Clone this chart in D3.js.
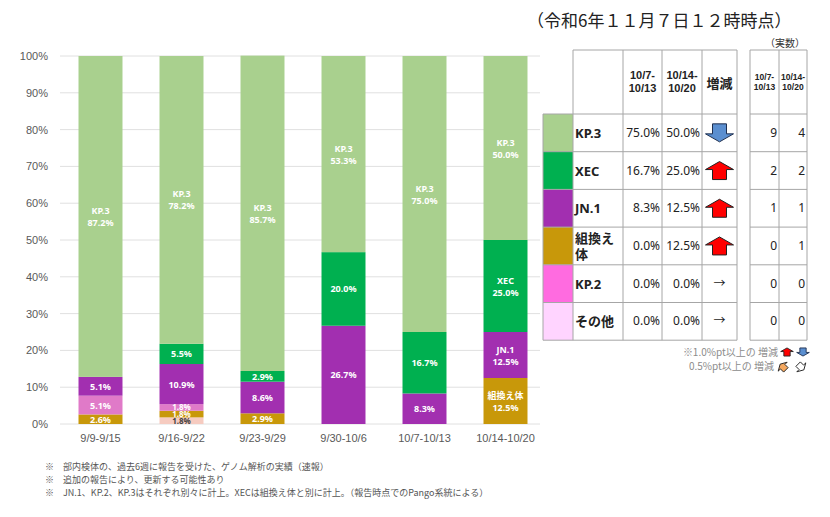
<!DOCTYPE html>
<html>
<head>
<meta charset="utf-8">
<script src="https://cdn.jsdelivr.net/npm/d3@7"></script>
<style>
  body { margin: 0; background: #fff; }
  svg { font-family: "Noto Sans", "Noto Sans CJK JP", sans-serif; }
</style>
</head>
<body>
<div id="chart"></div>
<script>
// weeks (x axis)
const weeks = ['9/9-9/15', '9/16-9/22', '9/23-9/29', '9/30-10/6', '10/7-10/13', '10/14-10/20'];
// stack order, bottom to top
const lineages = ['その他', '組換え体', 'KP.2', 'JN.1', 'XEC', 'KP.3'];
// percentage per week
const sonota  = [0, 1.8, 0, 0, 0, 0];
const kumikae = [2.6, 1.8, 2.9, 0, 0, 12.5];
const kp2     = [5.1, 1.8, 0, 0, 0, 0];
const jn1     = [5.1, 10.9, 8.6, 26.7, 8.3, 12.5];
const xec     = [0, 5.5, 2.9, 20.0, 16.7, 25.0];
const kp3     = [87.2, 78.2, 85.7, 53.3, 75.0, 50.0];
const yTicks  = [0, 10, 20, 30, 40, 50, 60, 70, 80, 90, 100];

// table on the right
const tableNames = ['KP.3', 'XEC', 'JN.1', '組換え体', 'KP.2', 'その他'];
const pctPrev = [75.0, 16.7, 8.3, 0.0, 0.0, 0.0];
const pctCurr = [50.0, 25.0, 12.5, 12.5, 0.0, 0.0];
const cntPrev = [9, 2, 1, 0, 0, 0];
const cntCurr = [4, 2, 1, 1, 0, 0];
const tableHead = ['10/7-|10/13', '10/14-|10/20'];

const notes = [
  '※　部内検体の、過去6週に報告を受けた、ゲノム解析の実績（速報）',
  '※　追加の報告により、更新する可能性あり',
  '※　JN.1、KP.2、KP.3はそれぞれ別々に計上。XECは組換え体と別に計上。（報告時点でのPango系統による）'
];

const barColor = {'KP.3': '#a9d08e', 'XEC': '#00b050', 'JN.1': '#a22fb0', '組換え体': '#c8980a', 'KP.2': '#e07ac8', 'その他': '#f6cbc0'};
const cellColor = {'KP.3': '#a9d08e', 'XEC': '#00b050', 'JN.1': '#a22fb0', '組換え体': '#c8980a', 'KP.2': '#ff6be0', 'その他': '#ffd4ff'};

const W = 830, H = 517;
const svg = d3.select('#chart').append('svg').attr('width', W).attr('height', H);

// ---- stacked bars ----
const series = {'その他': sonota, '組換え体': kumikae, 'KP.2': kp2, 'JN.1': jn1, 'XEC': xec, 'KP.3': kp3};
const rows = weeks.map((w, i) => {
  const r = {week: w};
  lineages.forEach(k => r[k] = series[k][i]);
  return r;
});
const stacked = d3.stack().keys(lineages)(rows);

const x = d3.scaleBand().domain(weeks).range([60, 546]).paddingInner(0.457).paddingOuter(0.2285);
const y = d3.scaleLinear().domain([0, 100]).range([424, 56]);

// grid
svg.append('g').selectAll('line').data(yTicks).join('line')
  .attr('x1', 60).attr('x2', 540)
  .attr('y1', d => y(d)).attr('y2', d => y(d))
  .attr('stroke', '#e0e0e0').attr('stroke-width', 1);

const yAxis = svg.append('g').attr('transform', 'translate(60,0)')
  .call(d3.axisLeft(y).tickValues(yTicks).tickFormat(d => d + '%').tickSize(0).tickPadding(12));
yAxis.select('.domain').remove();
yAxis.selectAll('text').attr('fill', '#595959').style('font-size', '11px');

const xAxis = svg.append('g').attr('transform', 'translate(0,424)')
  .call(d3.axisBottom(x).tickSize(0).tickPadding(10));
xAxis.select('.domain').remove();
xAxis.selectAll('text').attr('fill', '#595959').style('font-size', '11px');

const layer = svg.append('g').selectAll('g').data(stacked).join('g')
  .attr('fill', d => barColor[d.key]);
layer.selectAll('rect').data(d => d).join('rect')
  .attr('x', d => x(d.data.week))
  .attr('width', x.bandwidth())
  .attr('y', d => y(d[1]))
  .attr('height', d => y(d[0]) - y(d[1]));

// labels
const labels = [];
stacked.forEach(s => {
  s.forEach((d, i) => {
    const v = d[1] - d[0];
    if (v <= 0) return;
    const named = s.key === 'KP.3' || i === weeks.length - 1;
    labels.push({key: s.key, week: d.data.week, mid: (d[0] + d[1]) / 2, small: y(d[0]) - y(d[1]) < 8,
      lines: named ? [s.key, d3.format('.1f')(v) + '%'] : [d3.format('.1f')(v) + '%']});
  });
});
const lab = svg.append('g').selectAll('text').data(labels).join('text')
  .attr('x', d => x(d.week) + x.bandwidth() / 2)
  .attr('y', d => y(d.mid) - (d.lines.length - 1) * 6 + (d.small ? 3 : 3.5))
  .attr('text-anchor', 'middle')
  .attr('fill', d => d.key === 'その他' ? '#404040' : '#fff')
  .style('font-size', d => d.small ? '8px' : '9px').style('font-weight', 'bold');
lab.selectAll('tspan').data(d => d.lines).join('tspan')
  .attr('x', function() { return d3.select(this.parentNode).attr('x'); })
  .attr('dy', (d, i) => i ? 12 : 0)
  .text(d => d);

// ---- title ----
svg.append('text').attr('x', 527).attr('y', 27).attr('fill', '#222')
  .style('font-size', '17px').style('font-family', '"Noto Sans CJK JP"')
  .text('（令和6年１１月７日１２時時点）');

// ---- table ----
const colX = [543, 573, 623, 662, 702, 737];
const cntX = [750, 779, 807];
const headTop = 50, rowTop = 114, rowH = 37.7;
const tbl = svg.append('g');
const rowY = i => rowTop + i * rowH;
const tableBottom = rowY(tableNames.length);
const gridStroke = '#a6a6a6';

// colour cells
tbl.selectAll('rect.sw').data(tableNames).join('rect').attr('class', 'sw')
  .attr('x', colX[0]).attr('y', (d, i) => rowY(i))
  .attr('width', colX[1] - colX[0]).attr('height', rowH)
  .attr('fill', d => cellColor[d]);

// horizontal lines
const hLines = [headTop].concat(d3.range(tableNames.length + 1).map(rowY));
tbl.selectAll('line.h').data(hLines).join('line').attr('class', 'h')
  .attr('x1', (d, i) => i === 0 ? colX[1] : colX[0]).attr('x2', colX[5])
  .attr('y1', d => d).attr('y2', d => d).attr('stroke', gridStroke);
tbl.selectAll('line.hc').data(hLines).join('line').attr('class', 'hc')
  .attr('x1', cntX[0]).attr('x2', cntX[2])
  .attr('y1', d => d).attr('y2', d => d).attr('stroke', gridStroke);
// vertical lines
tbl.selectAll('line.v').data(colX).join('line').attr('class', 'v')
  .attr('x1', d => d).attr('x2', d => d)
  .attr('y1', (d, i) => i === 0 ? rowTop : headTop).attr('y2', tableBottom)
  .attr('stroke', gridStroke);
tbl.selectAll('line.vc').data(cntX).join('line').attr('class', 'vc')
  .attr('x1', d => d).attr('x2', d => d)
  .attr('y1', headTop).attr('y2', tableBottom).attr('stroke', gridStroke);

// header (one text per line)
const headCells = [[colX[2], colX[3]], [colX[3], colX[4]]];
tableHead.forEach((h, j) => {
  h.split('|').forEach((s, k) => {
    tbl.append('text').attr('text-anchor', 'middle').attr('fill', '#222')
      .style('font-size', '11px').style('font-weight', 'bold').style('font-family', '"Liberation Sans", Arial')
      .attr('x', (headCells[j][0] + headCells[j][1]) / 2).attr('y', 79 + k * 13).text(s);
    tbl.append('text').attr('text-anchor', 'middle').attr('fill', '#222')
      .style('font-size', '8.5px').style('font-weight', 'bold').style('font-family', '"Liberation Sans", Arial')
      .attr('x', (cntX[j] + cntX[j + 1]) / 2).attr('y', 80 + k * 10).text(s);
  });
});
tbl.append('text').attr('x', (colX[4] + colX[5]) / 2).attr('y', 88)
  .attr('text-anchor', 'middle').attr('fill', '#222')
  .style('font-size', '13px').style('font-weight', 'bold').style('font-family', '"Noto Sans CJK JP"')
  .text('増減');
tbl.append('text').attr('x', 805).attr('y', 47).attr('text-anchor', 'end').attr('fill', '#333')
  .style('font-size', '10px').style('font-family', '"Noto Sans CJK JP"').text('（実数）');

// names
tableNames.forEach((n, i) => {
  const t = tbl.append('text').attr('fill', '#222')
    .style('font-size', '13px').style('font-weight', 'bold').style('font-family', '"Noto Sans", "Noto Sans CJK JP"');
  const parts = n === '組換え体' ? ['組換え', '体'] : [n];
  parts.forEach((p, k) => t.append('tspan').attr('x', colX[1] + 2)
    .attr('y', rowY(i) + rowH / 2 + 5 - (parts.length - 1) * 8 + k * 16).text(p));
});

const pctFmt = d => d3.format('.1f')(d) + '%';
tbl.selectAll('text.p1').data(pctPrev).join('text').attr('class', 'p1')
  .attr('x', colX[3] - 2).attr('y', (d, i) => rowY(i) + rowH / 2 + 4)
  .attr('text-anchor', 'end').attr('fill', '#222').style('font-size', '12px').text(pctFmt);
tbl.selectAll('text.p2').data(pctCurr).join('text').attr('class', 'p2')
  .attr('x', colX[4] - 2).attr('y', (d, i) => rowY(i) + rowH / 2 + 4)
  .attr('text-anchor', 'end').attr('fill', '#222').style('font-size', '12px').text(pctFmt);
tbl.selectAll('text.c1').data(cntPrev).join('text').attr('class', 'c1')
  .attr('x', cntX[1] - 2).attr('y', (d, i) => rowY(i) + rowH / 2 + 4)
  .attr('text-anchor', 'end').attr('fill', '#222').style('font-size', '12px').text(d => d);
tbl.selectAll('text.c2').data(cntCurr).join('text').attr('class', 'c2')
  .attr('x', cntX[2] - 2).attr('y', (d, i) => rowY(i) + rowH / 2 + 4)
  .attr('text-anchor', 'end').attr('fill', '#222').style('font-size', '12px').text(d => d);

// arrows
const arrowPath = 'M0,-9 L14,-1 L7,-1 L7,9 L-7,9 L-7,-1 L-14,-1 Z';
const ax = (colX[4] + colX[5]) / 2;
pctCurr.forEach((v, i) => {
  const diff = v - pctPrev[i];
  const cy = rowY(i) + rowH / 2;
  if (diff >= 1) {
    tbl.append('path').attr('d', arrowPath).attr('transform', `translate(${ax},${cy})`)
      .attr('fill', '#ff0000').attr('stroke', '#222').attr('stroke-width', 1);
  } else if (diff <= -1) {
    tbl.append('path').attr('d', arrowPath).attr('transform', `translate(${ax},${cy}) rotate(180)`)
      .attr('fill', '#5b8fd0').attr('stroke', '#1f3050').attr('stroke-width', 1);
  } else {
    tbl.append('text').attr('x', ax).attr('y', cy + 4).attr('text-anchor', 'middle')
      .attr('fill', '#222').style('font-size', '12px').text('→');
  }
});

// arrow legend
const leg = svg.append('g');
leg.append('text').attr('x', 778).attr('y', 356).attr('text-anchor', 'end').attr('fill', '#8c8c8c')
  .style('font-size', '10px').style('font-family', '"Noto Sans CJK JP"').text('※1.0%pt以上の 増減');
leg.append('text').attr('x', 774).attr('y', 370).attr('text-anchor', 'end').attr('fill', '#8c8c8c')
  .style('font-size', '10px').style('font-family', '"Noto Sans CJK JP"').text('0.5%pt以上の 増減');
leg.append('path').attr('d', arrowPath).attr('transform', 'translate(787,352) scale(0.45)')
  .attr('fill', '#ff0000').attr('stroke', '#222').attr('stroke-width', 2);
leg.append('path').attr('d', arrowPath).attr('transform', 'translate(803,352) scale(0.45) rotate(180)')
  .attr('fill', '#5b8fd0').attr('stroke', '#1f3050').attr('stroke-width', 2);
leg.append('path').attr('d', arrowPath).attr('transform', 'translate(783,367) scale(0.45) rotate(-45)')
  .attr('fill', '#f4a860').attr('stroke', '#222').attr('stroke-width', 2);
leg.append('path').attr('d', arrowPath).attr('transform', 'translate(801,367) scale(0.45) rotate(135)')
  .attr('fill', '#fff').attr('stroke', '#222').attr('stroke-width', 2);

// footnotes
svg.append('g').selectAll('text').data(notes).join('text')
  .attr('x', 45).attr('y', (d, i) => 470 + i * 13)
  .attr('fill', '#555').style('font-size', '9px').style('font-family', '"Noto Sans CJK JP"')
  .text(d => d);
</script>
</body>
</html>
